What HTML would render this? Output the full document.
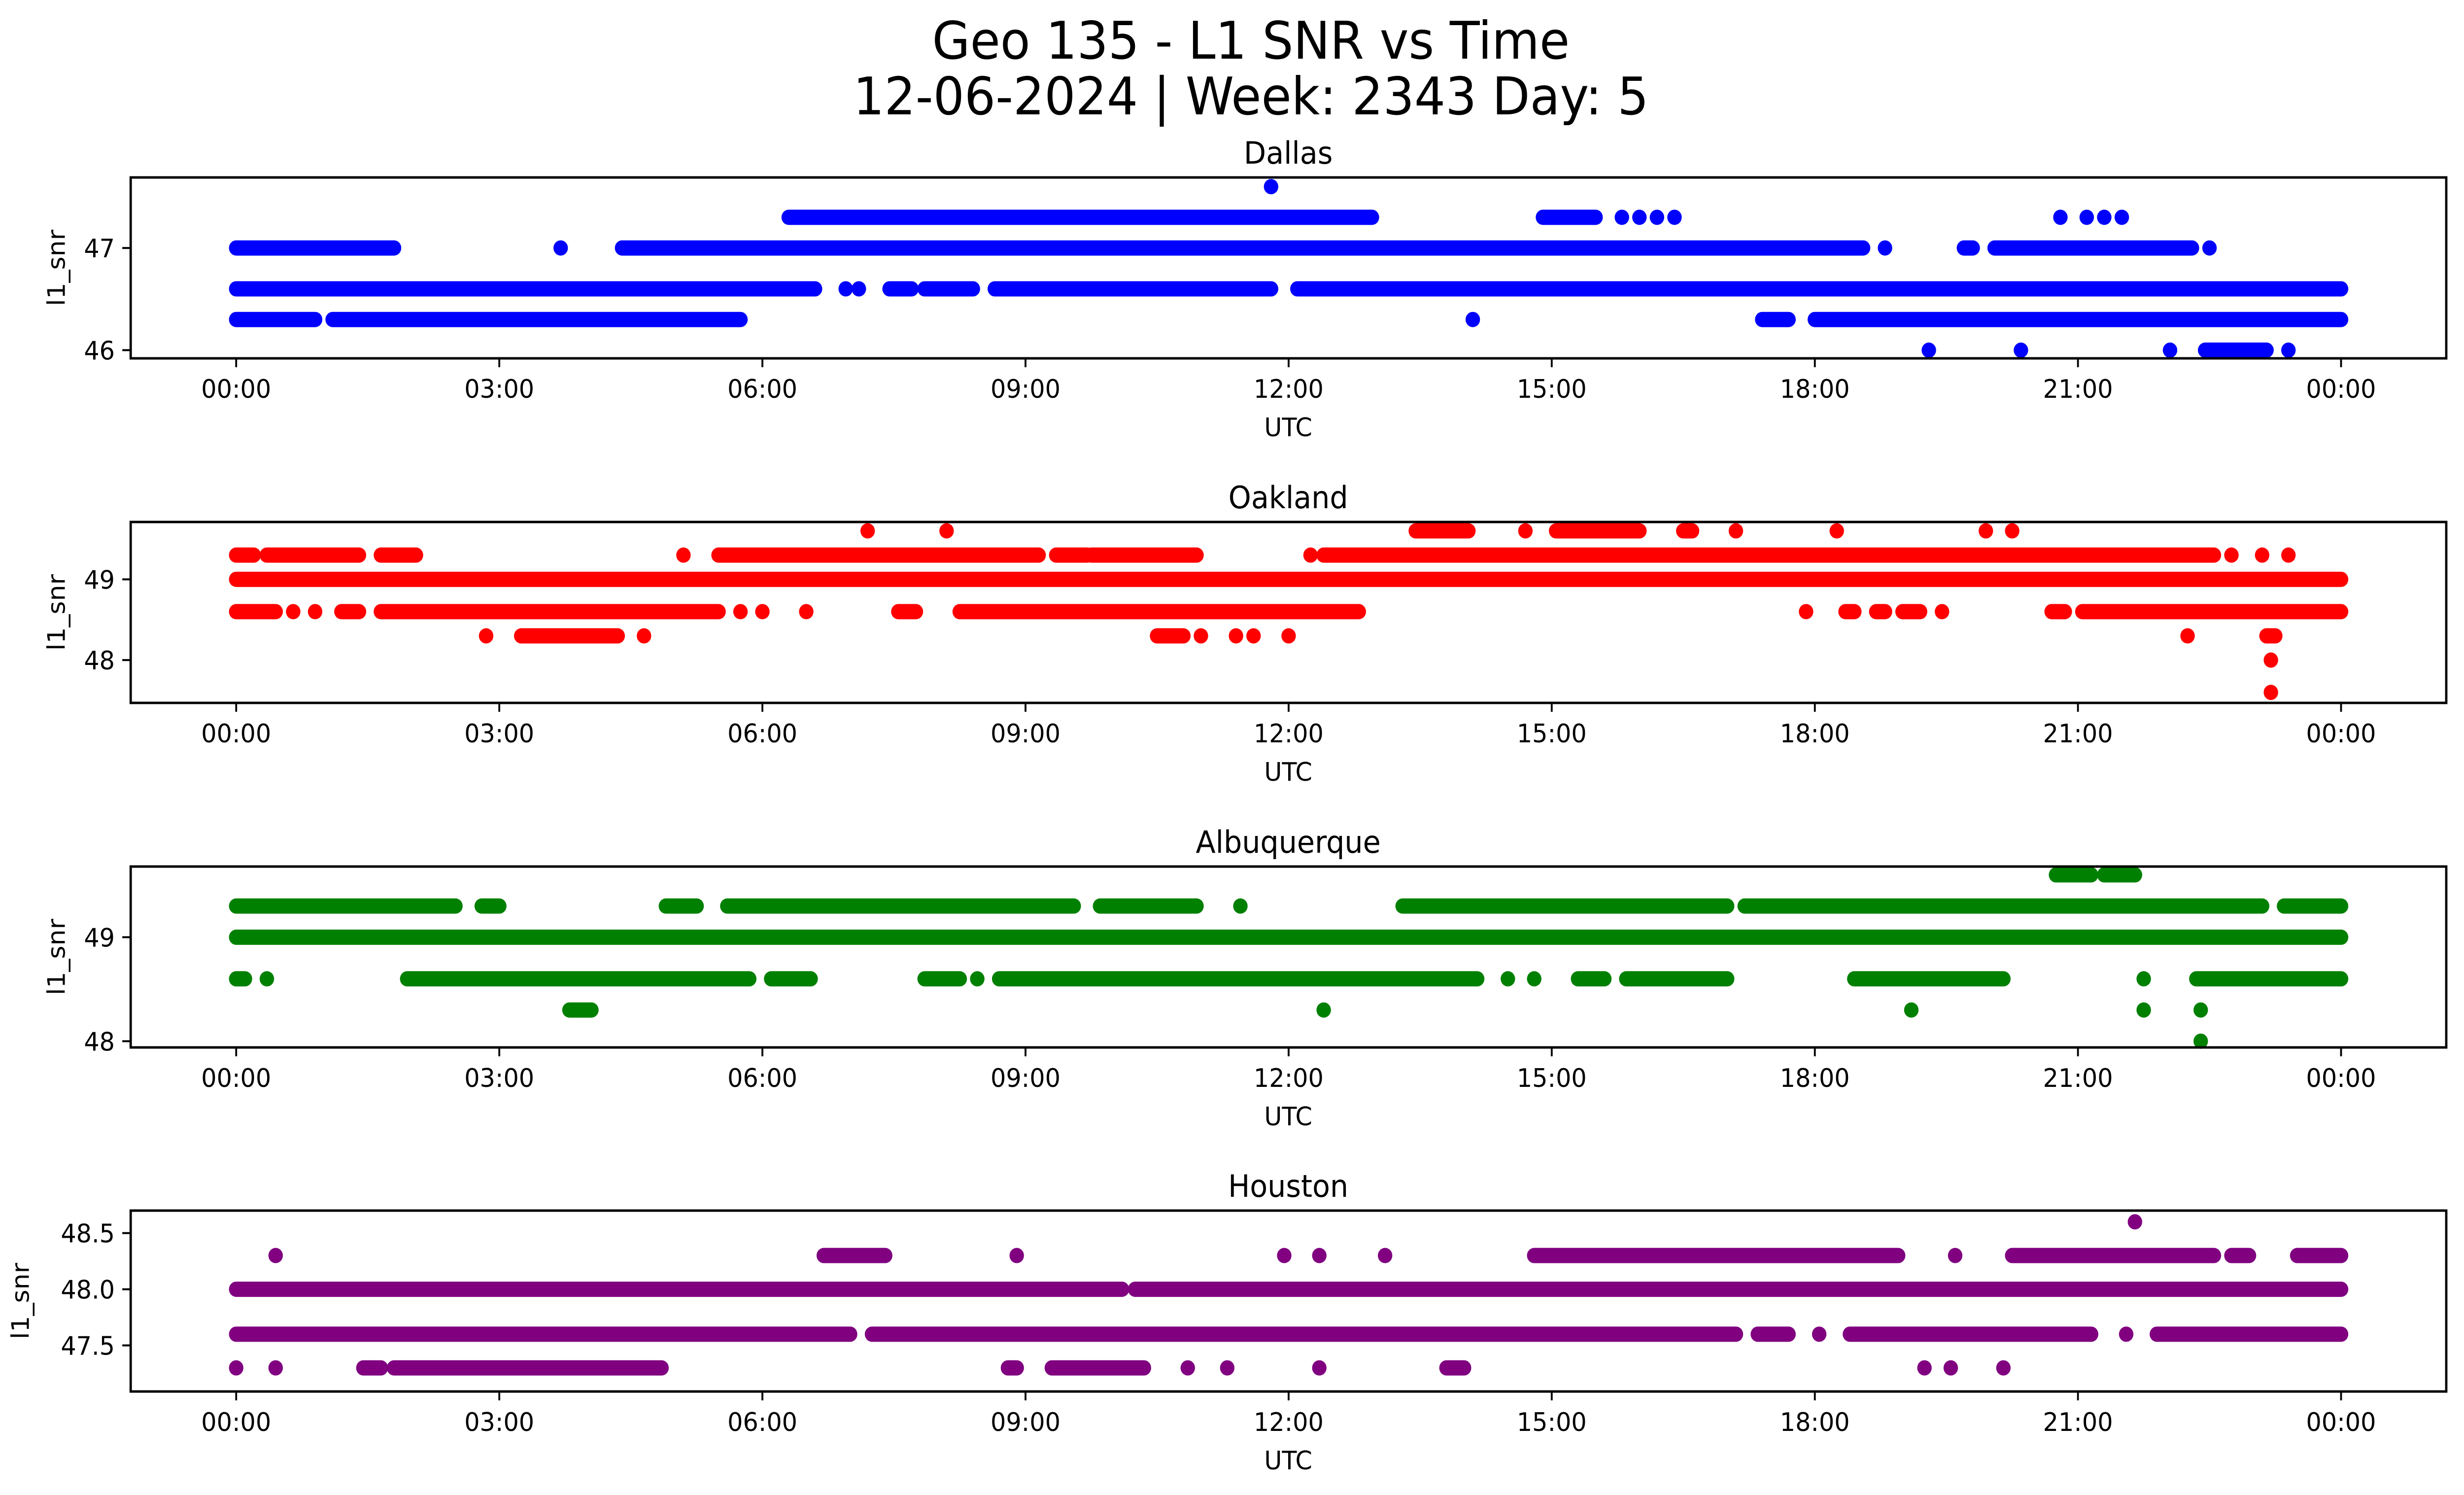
<!DOCTYPE html>
<html><head><meta charset="utf-8"><style>
html,body{margin:0;padding:0;background:#fff;width:100%;height:100%;overflow:hidden}
svg{display:block;width:100%;height:100%}
text{font-family:"DejaVu Sans","Liberation Sans",sans-serif;fill:#000}
</style></head><body>
<svg id="fig" viewBox="0 0 5279 3033" preserveAspectRatio="none" xmlns="http://www.w3.org/2000/svg">
<rect width="5279" height="3033" fill="#fff"/>
<text x="2680" y="119" font-size="105" text-anchor="middle">Geo 135 - L1 SNR vs Time</text>
<text x="2680" y="232" font-size="105" text-anchor="middle">12-06-2024 | Week: 2343 Day: 5</text>
<g id="panels"></g>
</svg>
<script>
// ---- data: runs of samples [startHour, endHour] at SNR level ----
const timeTicks = ["00:00","03:00","06:00","09:00","12:00","15:00","18:00","21:00","00:00"];
const panelNames = ["Dallas","Oakland","Albuquerque","Houston"];
const panelColors = ["#0000ff","#ff0000","#008000","#800080"];
const yTicks0 = [46,47];
const yTicks1 = [48,49];
const yTicks2 = [48,49];
const yTicks3 = [47.5,48.0,48.5];
const yTickLabels3 = ["47.5","48.0","48.5"];
const yRange0 = [45.92,47.69];
const yRange1 = [47.47,49.71];
const yRange2 = [47.94,49.68];
const yRange3 = [47.09,48.70];

const dallasStart = [11.8, 6.3,14.9,15.8,16.0,16.2,16.4,20.8,21.1,21.3,21.5, 0,3.7,4.4,18.8,19.7,20.05,22.5, 0,6.95,7.1,7.45,7.85,8.65,12.1, 0,1.1,14.1,17.4,18, 19.3,20.35,22.05,22.45,23.4];
const dallasEnd   = [11.8,12.95,15.5,15.8,16.0,16.2,16.4,20.8,21.1,21.3,21.5, 1.8,3.7,18.55,18.8,19.8,22.3,22.5, 6.6,6.95,7.1,7.7,8.4,11.8,24, 0.9,5.75,14.1,17.7,24, 19.3,20.35,22.05,23.15,23.4];
const dallasLevel = [47.6, 47.3,47.3,47.3,47.3,47.3,47.3,47.3,47.3,47.3,47.3, 47,47,47,47,47,47,47, 46.6,46.6,46.6,46.6,46.6,46.6,46.6, 46.3,46.3,46.3,46.3,46.3, 46,46,46,46,46];

const oaklandStart = [7.2,8.1,13.45,14.7,15.05,16.5,17.1,18.25,19.95,20.25, 0,0.35,1.65,5.1,5.5,9.35,9.75,12.25,12.4,22.75,23.1,23.4, 0, 0,0.65,0.9,1.2,1.65,5.75,6.0,6.5,7.55,8.25,17.9,18.35,18.7,19.0,19.45,20.7,21.05, 2.85,3.25,4.65,10.5,11.0,11.4,11.6,12.0,22.25,23.15, 23.2, 23.2];
const oaklandEnd   = [7.2,8.1,14.05,14.7,16.0,16.6,17.1,18.25,19.95,20.25, 0.2,1.4,2.05,5.1,9.15,9.7,10.95,12.25,22.55,22.75,23.1,23.4, 24, 0.45,0.65,0.9,1.4,5.5,5.75,6.0,6.5,7.75,12.8,17.9,18.45,18.8,19.2,19.45,20.85,24, 2.85,4.35,4.65,10.8,11.0,11.4,11.6,12.0,22.25,23.25, 23.2, 23.2];
const oaklandLevel = [49.6,49.6,49.6,49.6,49.6,49.6,49.6,49.6,49.6,49.6, 49.3,49.3,49.3,49.3,49.3,49.3,49.3,49.3,49.3,49.3,49.3,49.3, 49.0, 48.6,48.6,48.6,48.6,48.6,48.6,48.6,48.6,48.6,48.6,48.6,48.6,48.6,48.6,48.6,48.6,48.6, 48.3,48.3,48.3,48.3,48.3,48.3,48.3,48.3,48.3,48.3, 48.0, 47.6];

const albqStart = [20.75,21.3, 0,2.8,4.9,5.6,9.85,11.45,13.3,17.2,23.35, 0, 0,0.35,1.95,6.1,7.85,8.45,8.7,14.5,14.8,15.3,15.85,18.45,21.75,22.35, 3.8,12.4,19.1,21.75,22.4, 22.4];
const albqEnd   = [21.15,21.65, 2.5,3.0,5.25,9.55,10.95,11.45,17.0,23.1,24, 24, 0.1,0.35,5.85,6.55,8.25,8.45,14.15,14.5,14.8,15.6,17.0,20.15,21.75,24, 4.05,12.4,19.1,21.75,22.4, 22.4];
const albqLevel = [49.6,49.6, 49.3,49.3,49.3,49.3,49.3,49.3,49.3,49.3,49.3, 49.0, 48.6,48.6,48.6,48.6,48.6,48.6,48.6,48.6,48.6,48.6,48.6,48.6,48.6,48.6, 48.3,48.3,48.3,48.3,48.3, 48.0];

const houstonStart = [21.65, 0.45,6.7,8.9,11.95,12.35,13.1,14.8,19.6,20.25,22.75,23.5, 0,10.25, 0,7.25,17.35,18.05,18.4,21.55,21.9, 0,0.45,1.45,1.8,8.8,9.3,10.85,11.3,12.35,13.8,19.25,19.55,20.15];
const houstonEnd   = [21.65, 0.45,7.4,8.9,11.95,12.35,13.1,18.95,19.6,22.55,22.95,24, 10.1,24, 7.0,17.1,17.7,18.05,21.15,21.55,24, 0,0.45,1.65,4.85,8.9,10.35,10.85,11.3,12.35,14.0,19.25,19.55,20.15];
const houstonLevel = [48.6, 48.3,48.3,48.3,48.3,48.3,48.3,48.3,48.3,48.3,48.3,48.3, 48.0,48.0, 47.6,47.6,47.6,47.6,47.6,47.6,47.6, 47.3,47.3,47.3,47.3,47.3,47.3,47.3,47.3,47.3,47.3,47.3,47.3,47.3];

const NS = "http://www.w3.org/2000/svg";
const AX_L = 280, AX_R = 5241, AX_H = 367, TOPS = [360,1059,1758,2456];
const X0 = 506, PX_PER_H = 187.9, R = 15.5;
function xScale(h){ return X0 + h*PX_PER_H; }
function mk(tag, attrs, parent){ const e=document.createElementNS(NS,tag); for(const k in attrs) e.setAttribute(k, attrs[k]); parent.appendChild(e); return e; }

const panels = [
  {start:dallasStart,end:dallasEnd,level:dallasLevel,ticks:yTicks0,labels:yTicks0.map(String),range:yRange0},
  {start:oaklandStart,end:oaklandEnd,level:oaklandLevel,ticks:yTicks1,labels:yTicks1.map(String),range:yRange1},
  {start:albqStart,end:albqEnd,level:albqLevel,ticks:yTicks2,labels:yTicks2.map(String),range:yRange2},
  {start:houstonStart,end:houstonEnd,level:houstonLevel,ticks:yTicks3,labels:yTickLabels3,range:yRange3}
];
const root = document.getElementById('panels');
panels.forEach((p,i)=>{
  const top = TOPS[i], bot = top+AX_H;
  const yScale = v => bot - (v - p.range[0])/(p.range[1]-p.range[0])*AX_H;
  const g = mk('g',{},root);
  
  
  const t = mk('text',{x:2760,y:top-28,'font-size':62,'text-anchor':'middle'},g);
  t.textContent = panelNames[i];
  
  
  const pts = mk('g',{stroke:panelColors[i],'stroke-width':2*R,'stroke-linecap':'round',fill:'none'},g);
  
  
  p.start.forEach((s,k)=>{
    const y = yScale(p.level[k]);
    const ln = mk('line',{x1:xScale(s),y1:y,x2:xScale(p.end[k]),y2:y},pts);
    
    
  });
  const frame = mk('rect',{x:AX_L,y:top,width:AX_R-AX_L,height:AX_H,fill:'none',stroke:'#000','stroke-width':5},g);
  
  
  timeTicks.forEach((lab,k)=>{
    const x = xScale(k*3);
    mk('line',{x1:x,y1:bot,x2:x,y2:bot+18,stroke:'#000','stroke-width':4},g);
    const tl = mk('text',{x:x,y:bot+80,'font-size':52,'text-anchor':'middle'},g);
    tl.textContent = lab;
    
    
  });
  p.ticks.forEach((v,k)=>{
    const y = yScale(v);
    mk('line',{x1:AX_L-18,y1:y,x2:AX_L,y2:y,stroke:'#000','stroke-width':4},g);
    const yl = mk('text',{x:AX_L-34,y:y+19,'font-size':52,'text-anchor':'end'},g);
    yl.textContent = p.labels[k];
    
    
  });
  const xt = mk('text',{x:2760,y:bot+158,'font-size':52,'text-anchor':'middle'},g);
  xt.textContent = 'UTC';
  
  
  const cy = top+AX_H/2;
  const yx = i===3 ? 62 : 139;
  const yt = mk('text',{x:yx,y:cy,'font-size':52,'text-anchor':'middle',transform:'rotate(-90 '+yx+' '+cy+')'},g);
  yt.textContent = 'l1_snr';
  
  
});
</script>
</body></html>
